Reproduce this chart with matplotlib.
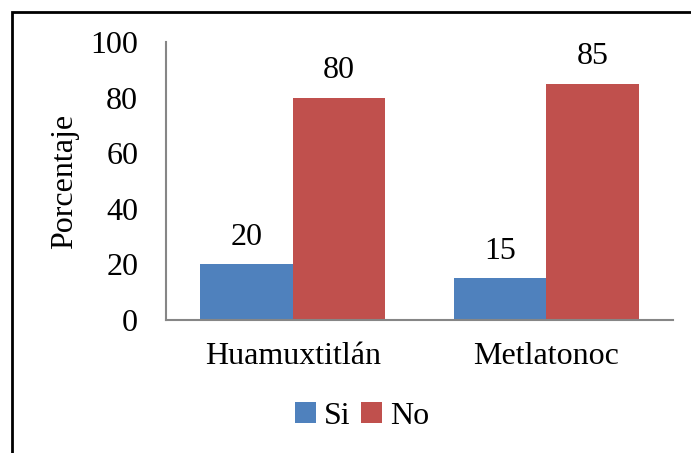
import matplotlib.pyplot as plt
import numpy as np
from matplotlib.patches import Rectangle

# Datos
localidades = ['Huamuxtitlán', 'Metlatonoc']
si = [20, 15]
no = [80, 85]
series = ['Si', 'No']

plt.rcParams['font.family'] = ['Liberation Serif', 'DejaVu Serif']
fs = 23

fig = plt.figure(figsize=(6.91, 4.53), dpi=100)
W, H = 691, 453
ax = fig.add_axes([166 / W, 1 - 320 / H, (673 - 166) / W, (320 - 42) / H])

x = np.arange(len(localidades))
ancho = 0.365
b1 = ax.bar(x - ancho / 2, si, ancho, color='#4F81BD', label=series[0])
b2 = ax.bar(x + ancho / 2, no, ancho, color='#C0504D', label=series[1])

for barras in (b1, b2):
    for r in barras:
        ax.text(r.get_x() + r.get_width() / 2, r.get_height() + 4.5,
                f'{r.get_height():.0f}', ha='center', va='bottom', fontsize=fs)

ax.set_xlim(-0.5, 1.5)
ax.set_ylim(0, 100)
ax.set_yticks(range(0, 101, 20))
ax.set_xticks(x)
ax.set_xticklabels(localidades)
ax.tick_params(axis='y', length=0, pad=20, labelsize=fs)
ax.tick_params(axis='x', length=0, pad=16, labelsize=fs)
ax.set_ylabel('Porcentaje', fontsize=fs, labelpad=8)

for s in ('top', 'right'):
    ax.spines[s].set_visible(False)
for s in ('left', 'bottom'):
    ax.spines[s].set_color('#868686')
    ax.spines[s].set_linewidth(1.5)

leg = fig.legend(loc='center', bbox_to_anchor=(362 / W, 1 - 416 / H), ncol=2,
                 frameon=False, fontsize=fs, handlelength=0.65, handleheight=0.65,
                 handletextpad=0.25, columnspacing=0.35)

# Marco exterior
fig.patches.append(Rectangle((12 / W, -0.1), 1.2, 1 - 12 / H + 0.1,
                             transform=fig.transFigure, fill=False,
                             edgecolor='black', linewidth=2))

fig.savefig('out.png', dpi=100)
